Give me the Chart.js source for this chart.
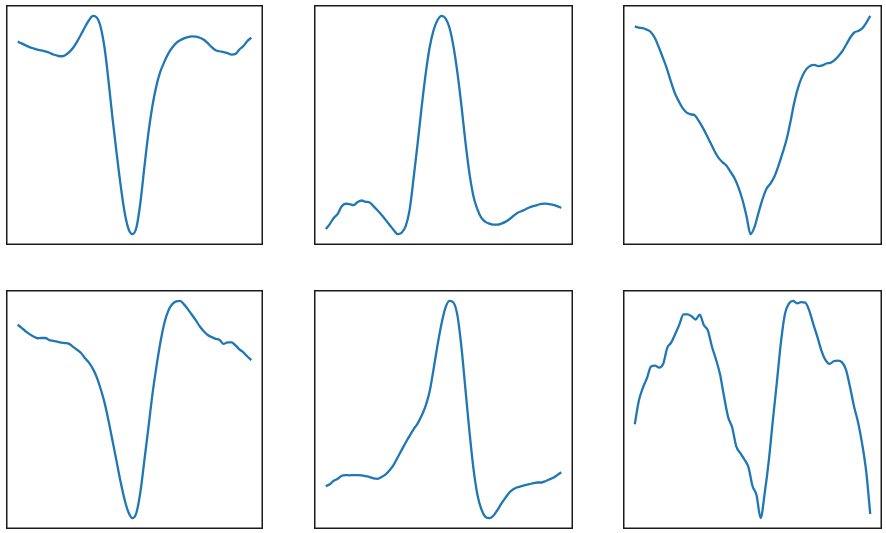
<!DOCTYPE html>
<html>
<head>
<meta charset="utf-8">
<script src="https://cdn.jsdelivr.net/npm/chart.js@4"></script>
<style>
  body { margin: 0; background: #fff; }
  .wrap { position: relative; width: 886px; height: 533px; }
  canvas { position: absolute; }
</style>
</head>
<body>
<div class="wrap">
  <canvas id="c1"></canvas>
  <canvas id="c2"></canvas>
  <canvas id="c3"></canvas>
  <canvas id="c4"></canvas>
  <canvas id="c5"></canvas>
  <canvas id="c6"></canvas>
</div>
<script>
// one beat per panel, samples (normalised 0..100)
const beatA = [88.2, 87.4, 86.5, 85.7, 85.1, 84.5, 84.2, 83.7, 83.1, 82.3,
  81.8, 81.5, 82.0, 83.4, 85.4, 88.2, 91.5, 94.9, 98.0, 100.0,
  99.2, 94.6, 84.6, 69.2, 52.3, 36.9, 22.3, 10.0, 2.3, 0.0,
  3.1, 14.6, 30.8, 46.2, 58.5, 67.7, 74.3, 78.8, 82.6, 85.4,
  87.5, 88.8, 89.7, 90.3, 90.6, 90.5, 90.0, 89.1, 87.5, 85.7,
  84.3, 83.8, 83.4, 82.9, 82.3, 82.6, 84.6, 86.2, 88.5, 90.0];

const beatB = [2.3, 4.6, 7.4, 9.3, 12.8, 13.9, 13.7, 13.3, 14.7, 15.4,
  14.8, 14.5, 12.7, 10.8, 8.8, 6.5, 4.2, 1.9, 0.0, 0.6,
  3.5, 11.0, 25.5, 41.2, 57.9, 73.0, 85.3, 93.4, 98.0, 100.0,
  98.9, 94.6, 86.0, 73.8, 58.8, 42.1, 27.8, 17.4, 11.3, 7.4,
  5.6, 4.8, 4.3, 4.3, 4.8, 5.6, 6.8, 8.3, 9.7, 10.5,
  11.3, 12.2, 12.8, 13.3, 13.9, 14.0, 13.7, 13.4, 12.8, 12.0];

const beatC = [95.2, 94.6, 94.4, 93.7, 92.6, 90.0, 85.8, 81.0, 76.1, 70.2,
  64.8, 61.0, 57.7, 55.7, 54.9, 54.5, 52.0, 48.9, 45.4, 41.7,
  38.0, 34.9, 32.9, 31.3, 28.5, 25.6, 21.3, 15.6, 8.2, 0.0,
  3.2, 9.7, 15.9, 20.8, 23.1, 26.4, 31.3, 37.0, 43.1, 51.4,
  60.6, 67.6, 72.4, 75.6, 77.2, 77.6, 77.0, 77.3, 78.2, 78.5,
  79.6, 81.5, 83.8, 86.9, 90.1, 92.4, 93.1, 94.3, 96.8, 100.0];

const beatD = [89.0, 87.6, 86.0, 84.7, 83.6, 82.8, 82.9, 82.9, 81.9, 81.6,
  81.2, 80.8, 80.6, 80.2, 78.8, 77.5, 76.0, 73.6, 71.6, 68.7,
  64.7, 59.2, 52.7, 44.3, 35.2, 25.9, 16.6, 8.5, 2.6, 0.0,
  2.6, 12.2, 26.7, 41.4, 56.6, 69.3, 80.5, 89.5, 95.3, 98.4,
  99.8, 100.0, 98.4, 96.1, 93.6, 91.0, 88.2, 86.0, 84.3, 83.3,
  82.5, 82.0, 80.2, 80.9, 80.9, 79.5, 77.7, 76.3, 74.4, 72.7];

const beatE = [14.7, 15.6, 17.2, 18.1, 19.5, 19.8, 19.7, 19.8, 19.8, 19.7,
  19.3, 18.9, 18.3, 18.1, 18.9, 20.1, 22.0, 24.5, 27.9, 31.3,
  34.7, 37.9, 40.9, 43.5, 47.1, 51.5, 58.0, 68.4, 79.6, 89.5,
  96.9, 100.0, 99.2, 93.2, 78.6, 59.3, 39.9, 22.9, 10.8, 4.0,
  0.6, 0.0, 1.1, 3.7, 6.7, 9.3, 11.8, 13.3, 14.2, 14.7,
  15.2, 15.6, 16.1, 16.4, 16.4, 17.0, 17.8, 18.6, 19.8, 21.1];

const beatF = [43.2, 54.0, 60.0, 64.4, 69.8, 70.2, 69.3, 71.0, 78.4, 80.9,
  84.9, 89.2, 93.8, 93.8, 92.9, 91.4, 93.7, 88.9, 86.4, 79.0,
  73.1, 66.2, 55.9, 46.5, 41.7, 33.0, 29.9, 27.0, 23.5, 14.8,
  10.5, 0.0, 11.4, 26.2, 44.8, 62.5, 80.9, 94.1, 98.8, 100.0,
  98.9, 99.4, 99.2, 95.4, 89.2, 83.3, 77.0, 72.7, 71.0, 72.2,
  72.5, 71.8, 68.5, 60.6, 51.5, 44.1, 34.3, 21.6, 1.9];

const panels = [
  { id: "c1", values: beatA, left: 6, top: 5, w: 257, h: 240 },
  { id: "c2", values: beatB, left: 314, top: 5, w: 259, h: 240 },
  { id: "c3", values: beatC, left: 623, top: 5, w: 259, h: 240 },
  { id: "c4", values: beatD, left: 6, top: 290, w: 257, h: 239 },
  { id: "c5", values: beatE, left: 314, top: 290, w: 259, h: 239 },
  { id: "c6", values: beatF, left: 623, top: 290, w: 259, h: 239 }
];

// black box round the plot area, like matplotlib spines
const framePlugin = {
  id: "frame",
  afterDraw(chart) {
    const { ctx, chartArea } = chart;
    ctx.save();
    ctx.strokeStyle = "#1a1a1a";
    ctx.lineWidth = 1.5;
    ctx.strokeRect(chartArea.left + 0.75, chartArea.top + 0.75,
      chartArea.right - chartArea.left - 1.5, chartArea.bottom - chartArea.top - 1.5);
    ctx.restore();
  }
};

panels.forEach(p => {
  const canvas = document.getElementById(p.id);
  canvas.width = p.w;
  canvas.height = p.h;
  canvas.style.left = p.left + "px";
  canvas.style.top = p.top + "px";
  canvas.style.width = p.w + "px";
  canvas.style.height = p.h + "px";

  const n = p.values.length;
  const lo = Math.min(...p.values);
  const hi = Math.max(...p.values);
  const pad = (hi - lo) * 0.05;

  new Chart(canvas.getContext("2d"), {
    type: "line",
    data: {
      datasets: [{
        data: p.values.map((v, i) => ({ x: i, y: v })),
        borderColor: "#1f77b4",
        borderWidth: 2.3,
        pointRadius: 0,
        cubicInterpolationMode: "monotone",
        fill: false
      }]
    },
    options: {
      responsive: false,
      animation: false,
      devicePixelRatio: 1,
      layout: { padding: 0 },
      plugins: { legend: { display: false }, tooltip: { enabled: false } },
      scales: {
        x: { type: "linear", display: false, min: -0.05 * (n - 1), max: 1.05 * (n - 1) },
        y: { type: "linear", display: false, min: lo - pad, max: hi + pad }
      }
    },
    plugins: [framePlugin]
  });
});
</script>
</body>
</html>
